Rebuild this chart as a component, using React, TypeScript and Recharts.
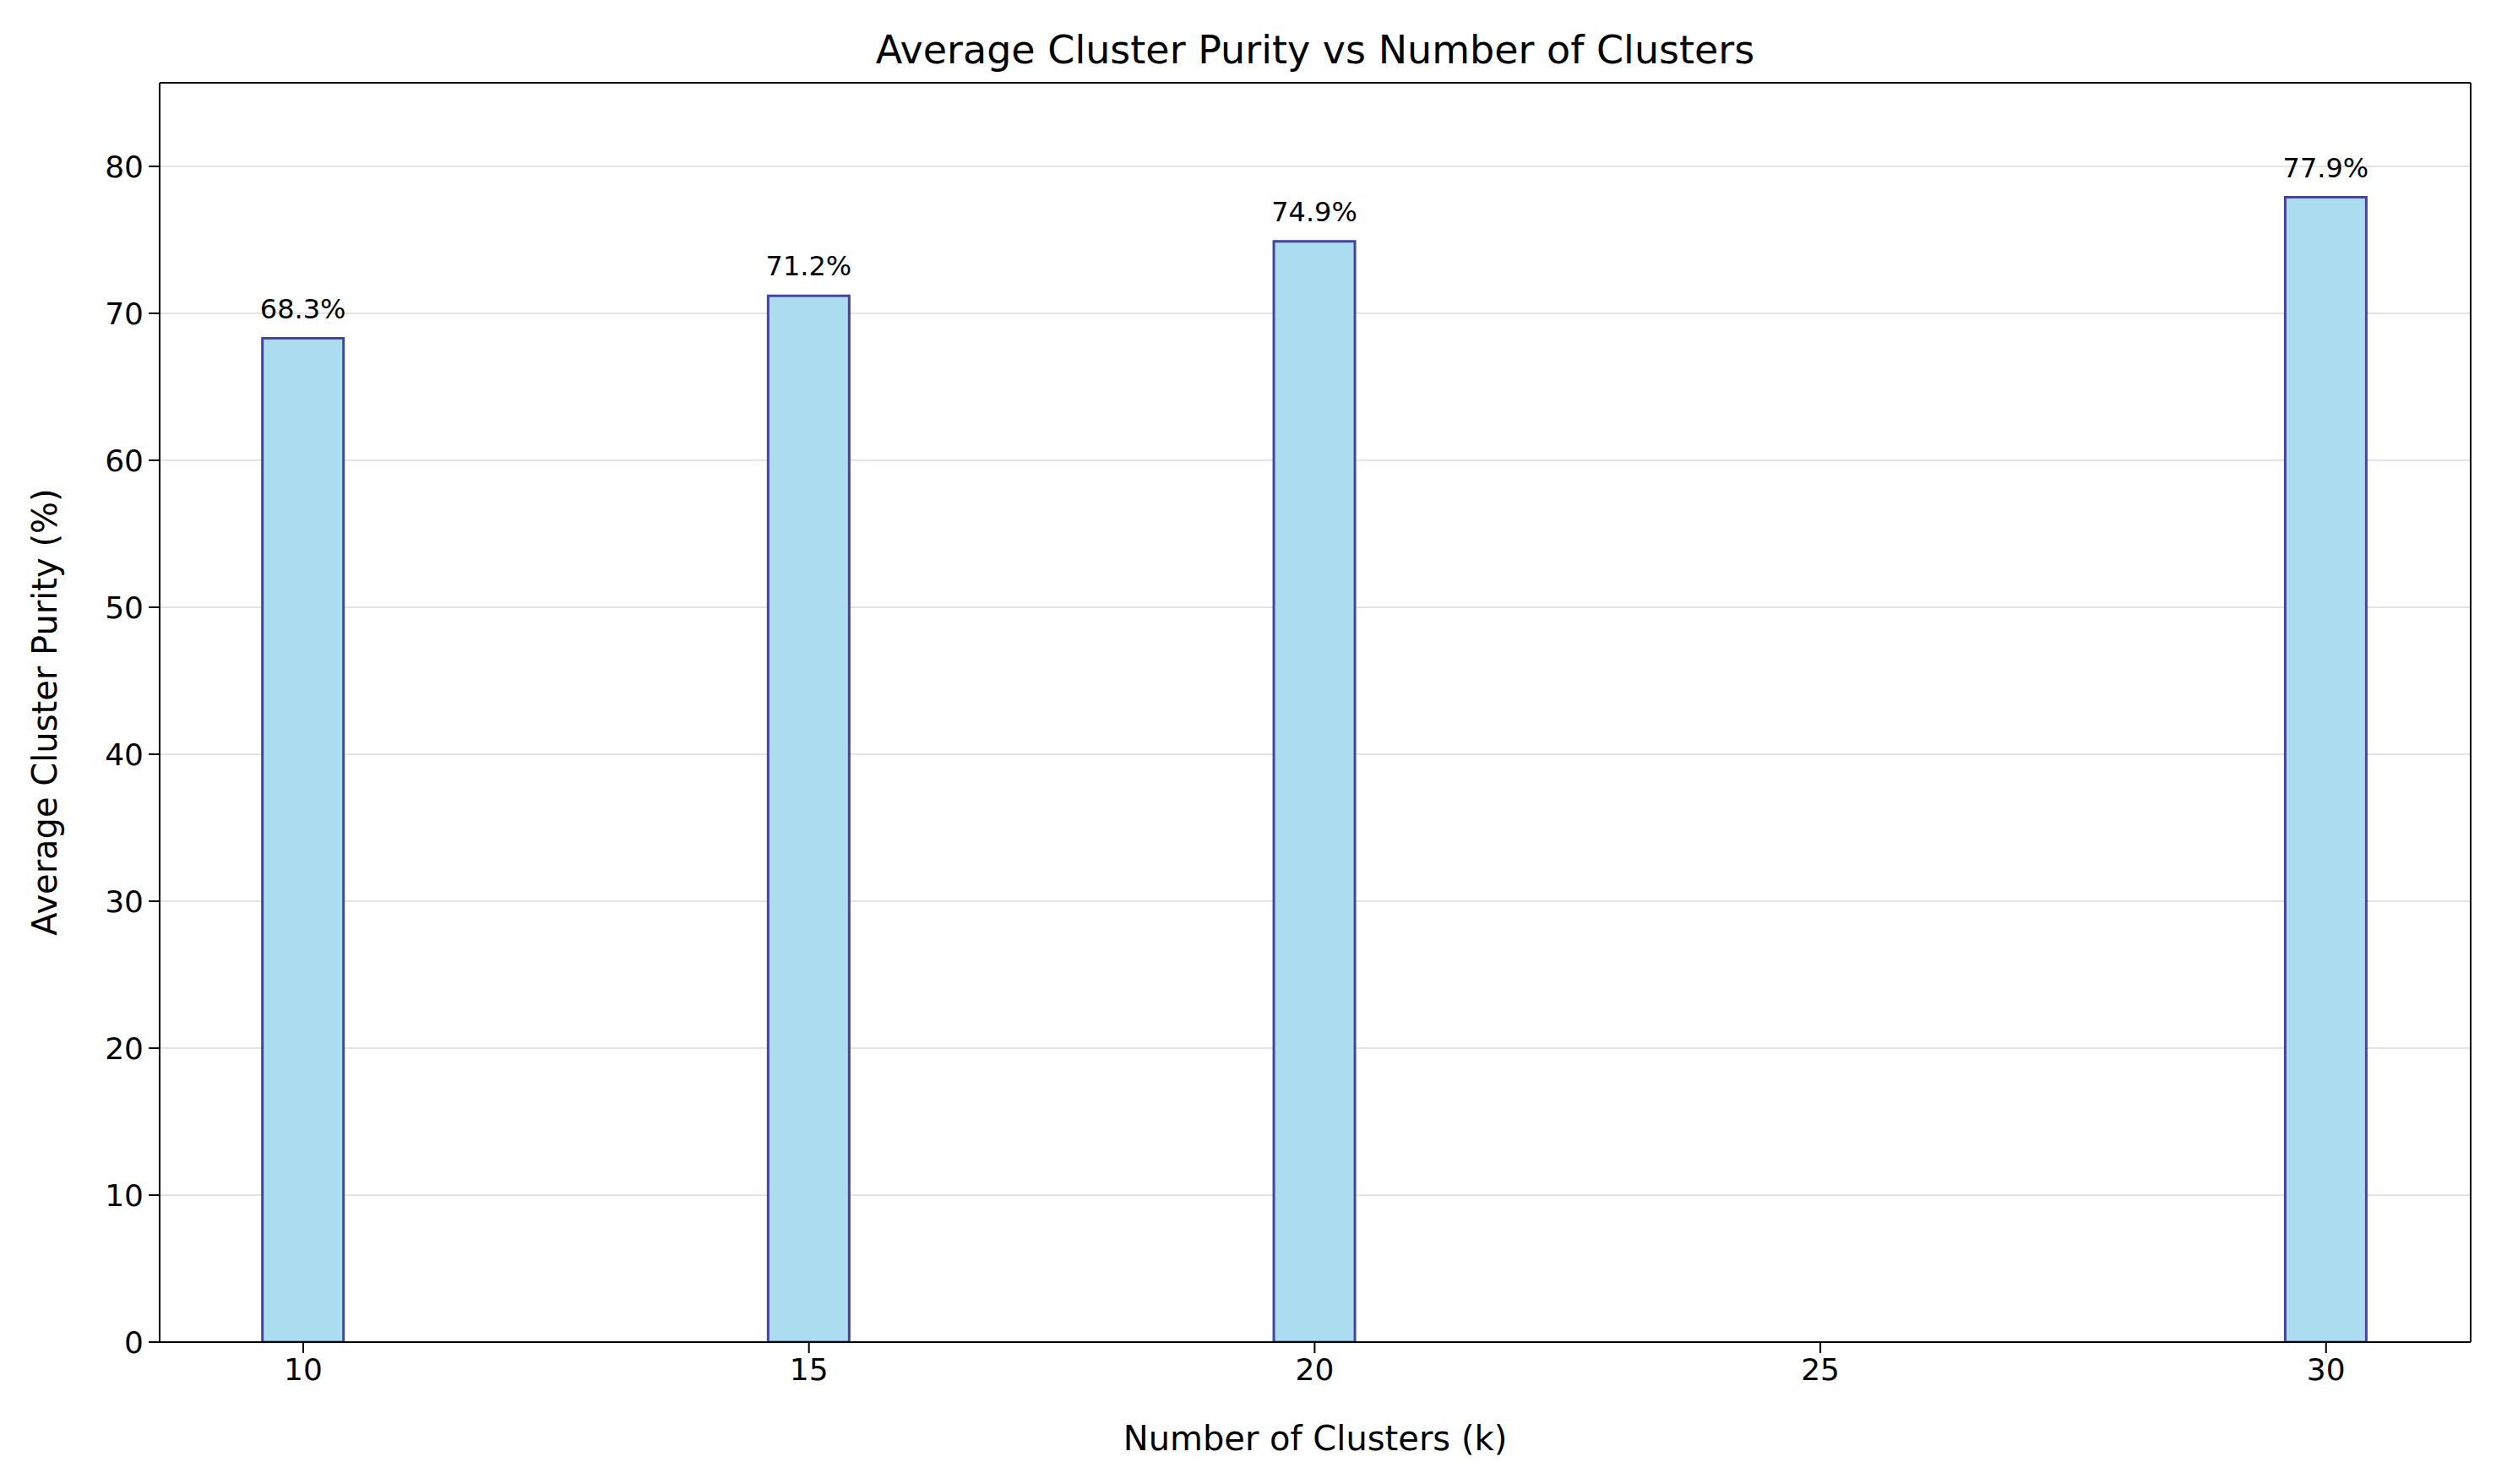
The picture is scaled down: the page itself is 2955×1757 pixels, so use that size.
import React from "react";
import {
  ComposedChart,
  Bar,
  XAxis,
  YAxis,
  CartesianGrid,
  LabelList,
  ReferenceLine,
} from "recharts";

const clusters = [10, 15, 20, 30];
const purity = [68.3, 71.2, 74.9, 77.9];
const xTicks = [10, 15, 20, 25, 30];
const yTicks = [0, 10, 20, 30, 40, 50, 60, 70, 80];

const data = clusters.map((k, i) => ({ k, purity: purity[i] }));

const font = "'DejaVu Sans', sans-serif";
const W = 2940;
const H = 1740;
const X_MAX = 31.43;
const Y_MAX = 85.69;

export default function App() {
  return (
    <div style={{ position: "relative", width: W, height: H, fontFamily: font }}>
      <div
        style={{
          position: "absolute",
          left: 181,
          width: 2736,
          top: 24,
          textAlign: "center",
          fontSize: 46,
          color: "#000",
        }}
      >
        Average Cluster Purity vs Number of Clusters
      </div>
      <div
        style={{
          position: "absolute",
          left: 181,
          width: 2736,
          top: 1672,
          textAlign: "center",
          fontSize: 40,
        }}
      >
        Number of Clusters (k)
      </div>
      <div
        style={{
          position: "absolute",
          left: 45,
          top: 835,
          transform: "translate(-50%, -50%) rotate(-90deg)",
          whiteSpace: "nowrap",
          fontSize: 40,
        }}
      >
        Average Cluster Purity (%)
      </div>
      <ComposedChart
        width={W}
        height={H}
        data={data}
        margin={{ top: 90, right: 23, left: 0, bottom: 0 }}
        style={{ position: "absolute", left: 0, top: 0 }}
      >
        <CartesianGrid vertical={false} stroke="#e3e3e3" strokeWidth={2} />
        <XAxis
          dataKey="k"
          type="number"
          domain={[8.58, X_MAX]}
          ticks={xTicks}
          height={159}
          allowDataOverflow
          stroke="#000"
          strokeWidth={2}
          tickSize={13}
          tick={{ fill: "#000", fontSize: 36, fontFamily: font }}
          tickMargin={6}
        />
        <YAxis
          type="number"
          domain={[0, Y_MAX]}
          ticks={yTicks}
          width={181}
          allowDataOverflow
          stroke="#000"
          strokeWidth={2}
          tickSize={13}
          tick={{ fill: "#000", fontSize: 36, fontFamily: font }}
          tickMargin={6}
        />
        <ReferenceLine x={X_MAX} stroke="#000" strokeWidth={2} />
        <ReferenceLine y={Y_MAX} stroke="#000" strokeWidth={2} />
        <Bar
          dataKey="purity"
          barSize={96}
          fill="#abdcf0"
          stroke="#45459a"
          strokeWidth={3}
          isAnimationActive={false}
        >
          <LabelList
            dataKey="purity"
            position="top"
            offset={24}
            formatter={(v: number) => `${v.toFixed(1)}%`}
            style={{ fill: "#000", fontSize: 32, fontFamily: font }}
          />
        </Bar>
      </ComposedChart>
    </div>
  );
}
